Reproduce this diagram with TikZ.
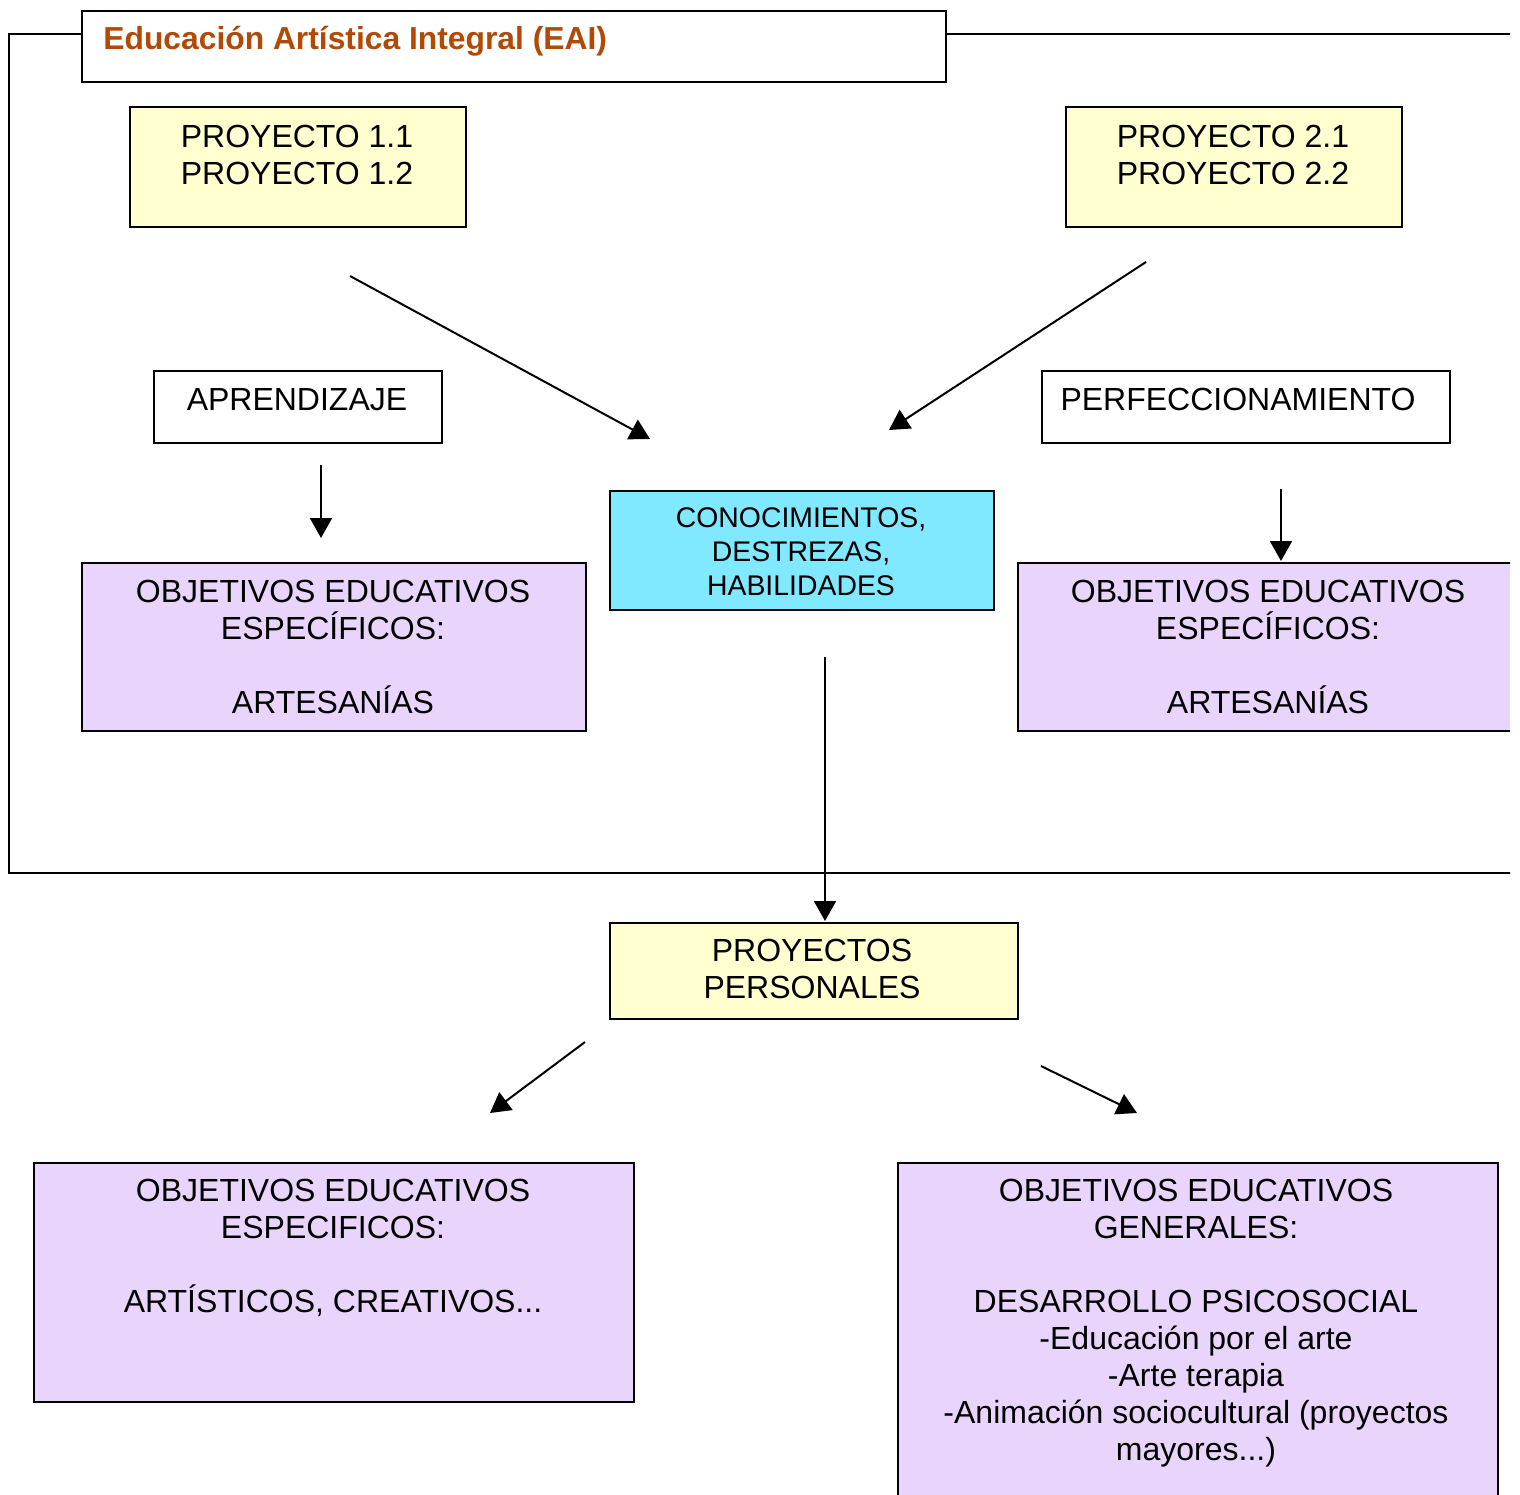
\documentclass[tikz,border=0pt]{standalone}
\usepackage{fontspec}
\setmainfont{Liberation Sans}
\usetikzlibrary{arrows.meta}
\definecolor{ylw}{RGB}{255,255,208}
\definecolor{cyn}{RGB}{128,232,255}
\definecolor{lav}{RGB}{233,213,252}
\definecolor{ttl}{RGB}{178,74,6}
\begin{document}
\begin{tikzpicture}[x=0.5pt,y=-0.5pt,
  box/.style={draw, line width=1pt, inner sep=0pt, anchor=north west},
  txt/.style={font=\fontsize{16}{18.5}\selectfont, align=center, anchor=north, inner sep=0pt},
  smalltxt/.style={font=\fontsize{14.2}{17}\selectfont, align=center, anchor=north, inner sep=0pt},
  arr/.style={line width=1pt, -{Triangle[length=10pt,width=11pt]}},
  frame/.style={line width=1pt}]
\useasboundingbox (0,0) rectangle (1520,1494);
\clip (0,0) rectangle (1510,1494);

% boxes
\node[box, fill=white, minimum width=432pt, minimum height=35.5pt] (title) at (81,10) {};
\node[font=\bfseries\fontsize{15.9}{18}\selectfont, text=ttl, anchor=base west, inner sep=0pt] (titletext) at (103,49) {Educación Artística Integral (EAI)};

\node[box, fill=ylw, minimum width=168pt, minimum height=60pt] (p1) at (129,106) {};
\node[txt] (p1t) at (297,125) {PROYECTO 1.1\\PROYECTO 1.2};
\node[box, fill=ylw, minimum width=168pt, minimum height=60pt] (p2) at (1065,106) {};
\node[txt] (p2t) at (1233,125) {PROYECTO 2.1\\PROYECTO 2.2};

\node[box, minimum width=144pt, minimum height=36pt] (apr) at (153,370) {};
\node[txt] (aprt) at (297,388) {APRENDIZAJE};
\node[box, minimum width=204pt, minimum height=36pt] (perf) at (1041,370) {};
\node[txt] (perft) at (1238,388) {PERFECCIONAMIENTO};

\node[box, fill=cyn, minimum width=192pt, minimum height=59.5pt] (con) at (609,490) {};
\node[smalltxt] (cont) at (801,507) {CONOCIMIENTOS,\\DESTREZAS,\\HABILIDADES};

\node[box, fill=lav, minimum width=252pt, minimum height=84pt] (objl) at (81,562) {};
\node[txt] (objlt) at (333,580) {OBJETIVOS EDUCATIVOS\\ESPECÍFICOS:\\[18.5pt]ARTESANÍAS};
\node[box, fill=lav, minimum width=252pt, minimum height=84pt] (objr) at (1017,562) {};
\node[txt] (objrt) at (1268,580) {OBJETIVOS EDUCATIVOS\\ESPECÍFICOS:\\[18.5pt]ARTESANÍAS};

\node[box, fill=ylw, minimum width=204pt, minimum height=48pt] (pp) at (609,922) {};
\node[txt] (ppt) at (812,939) {PROYECTOS\\PERSONALES};

\node[box, fill=lav, minimum width=300pt, minimum height=119.5pt] (botl) at (33,1162) {};
\node[txt] (botlt) at (333,1179) {OBJETIVOS EDUCATIVOS\\ESPECIFICOS:\\[18.5pt]ARTÍSTICOS, CREATIVOS...};
\node[box, fill=lav, minimum width=300pt, minimum height=200pt] (botr) at (897,1162) {};
\node[txt] (botrt) at (1196,1179) {OBJETIVOS EDUCATIVOS\\GENERALES:\\[18.5pt]DESARROLLO PSICOSOCIAL\\-Educación por el arte\\-Arte terapia\\-Animación sociocultural (proyectos\\mayores...)};

% outer frame
\coordinate (f1) at (9,34);
\coordinate (f2) at (9,873);
\coordinate (f3) at (1520,873);
\coordinate (f4) at (1520,34);
\draw[frame] (title.west |- f1) -- (f1) -- (f2) -- (f3);
\draw[frame] (title.east |- f4) -- (f4);

% arrow ends
\coordinate (a1s) at (350,276); \coordinate (a1e) at (650,439);
\coordinate (a2s) at (1146,262); \coordinate (a2e) at (889,430);
\coordinate (a3s) at (321,465); \coordinate (a3e) at (321,538);
\coordinate (a4s) at (1281,489); \coordinate (a4e) at (1281,561);
\coordinate (a5s) at (825,657); \coordinate (a5e) at (825,921);
\coordinate (a6s) at (585,1042); \coordinate (a6e) at (490,1113);
\coordinate (a7s) at (1041,1066); \coordinate (a7e) at (1137,1113);
\draw[arr] (a1s) -- (a1e);
\draw[arr] (a2s) -- (a2e);
\draw[arr] (a3s) -- (a3e);
\draw[arr] (a4s) -- (a4e);
\draw[arr] (a5s) -- (a5e);
\draw[arr] (a6s) -- (a6e);
\draw[arr] (a7s) -- (a7e);
\end{tikzpicture}
\end{document}
